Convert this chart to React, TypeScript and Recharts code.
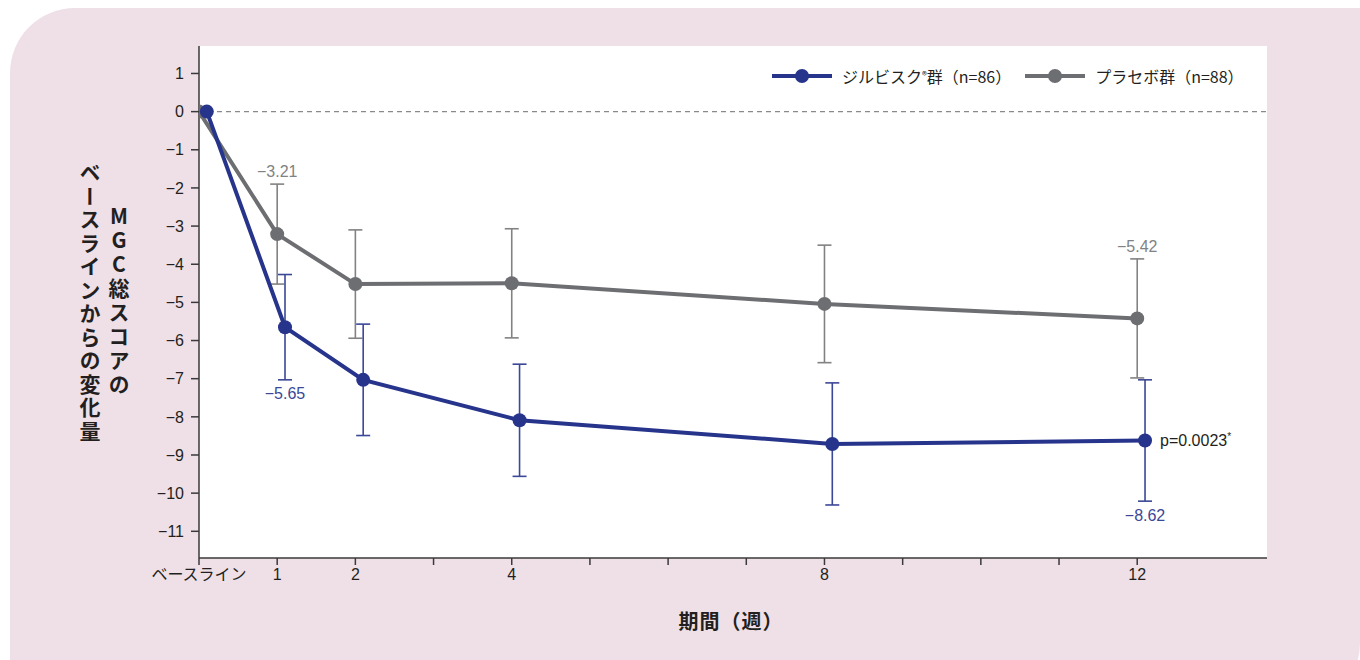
import { LineChart, Line, XAxis, YAxis, ErrorBar, ReferenceLine, ReferenceDot, Label } from 'recharts'

// 観察時点（週）
const weeks = [0, 1, 2, 4, 8, 12]
const weekTicks = [0, 1, 2, 3, 4, 5, 6, 7, 8, 9, 10, 11, 12]
const weekLabels: Record<number, string> = { 0: 'ベースライン', 1: '1', 2: '2', 4: '4', 8: '8', 12: '12' }
const yTicks = [1, 0, -1, -2, -3, -4, -5, -6, -7, -8, -9, -10, -11]

// ジルビスク群
const zilMean = [0, -5.65, -7.03, -8.09, -8.71, -8.62]
const zilErr = [null, 1.38, 1.46, 1.47, 1.6, 1.59]
// プラセボ群
const plaMean = [0, -3.21, -4.52, -4.5, -5.04, -5.42]
const plaErr = [null, 1.31, 1.42, 1.43, 1.54, 1.56]

const BLUE = '#27348b'
const BLUE_ERR = '#3b4797'
const GRAY = '#6d6e71'
const GRAY_ERR = '#828282'
const FONT = '"Liberation Sans", Arial, "Noto Sans CJK JP", sans-serif'
const JP = '"Noto Sans CJK JP", sans-serif'

const SHIFT = 0.1 // ジルビスク群の点を少し右へずらす

const zilData = weeks.map((w, i) => ({ week: w + SHIFT, value: zilMean[i], err: zilErr[i] }))
const plaData = weeks.map((w, i) => ({ week: w, value: plaMean[i], err: plaErr[i] }))

const fmt = (v: number) => '−' + Math.abs(v).toFixed(2)

function LegendBox() {
  const item = (color: string, text: any) => (
    <div style={{ display: 'flex', alignItems: 'center', marginRight: 14 }}>
      <svg width={62} height={16}>
        <line x1={0} y1={8} x2={60} y2={8} stroke={color} strokeWidth={4} />
        <circle cx={30} cy={8} r={7} fill={color} />
      </svg>
      <span style={{ marginLeft: 8, fontSize: 16, color: '#231f20', fontFamily: JP }}>{text}</span>
    </div>
  )
  return (
    <div style={{ position: 'absolute', left: 772, top: 64, display: 'flex' }}>
      {item(BLUE, <>ジルビスク<sup style={{ fontSize: 10, verticalAlign: 4 }}>®</sup>群（n=86）</>)}
      {item(GRAY, <>プラセボ群（n=88）</>)}
    </div>
  )
}

function PLabel(props: any) {
  const { viewBox } = props
  return (
    <text x={viewBox.x + 15} y={viewBox.y + 6} fontSize={16} fill="#231f20" fontFamily={FONT}>
      p=0.0023<tspan fontSize={10} dy={-6}>*</tspan>
    </text>
  )
}

export default function App() {
  return (
    <div style={{ position: 'absolute', left: 0, top: 0, width: 1360, height: 660, background: '#fff', overflow: 'hidden' }}>
      <div style={{ position: 'absolute', left: 10, top: 8, width: 1350, height: 700, background: '#efe0e7', borderRadius: '65px 0 65px 0' }} />
      <div style={{ position: 'absolute', left: 0, top: 0 }}>
        <LineChart width={1360} height={660} data={plaData} margin={{ top: 46, right: 93, bottom: 72, left: 139 }}>
          <rect x={199} y={46} width={1068} height={512} fill="#fff" />
          <XAxis
            dataKey="week"
            type="number"
            domain={[0, 13.66]}
            ticks={weekTicks}
            interval={0}
            tickFormatter={(v: number) => weekLabels[v] ?? ''}
            height={30}
            tickSize={7}
            tickMargin={4}
            allowDataOverflow
            axisLine={{ stroke: '#3a3a3a', strokeWidth: 1.5 }}
            tickLine={{ stroke: '#3a3a3a', strokeWidth: 1.5 }}
            tick={{ fontSize: 16, fill: '#231f20', fontFamily: FONT }}
          />
          <YAxis
            type="number"
            domain={[-11.7, 1.72]}
            ticks={yTicks}
            interval={0}
            allowDataOverflow
            tickFormatter={(v: number) => (v < 0 ? '−' + Math.abs(v) : String(v))}
            width={60}
            tickSize={8}
            tickMargin={7}
            axisLine={{ stroke: '#3a3a3a', strokeWidth: 1.5 }}
            tickLine={{ stroke: '#3a3a3a', strokeWidth: 1.5 }}
            tick={{ fontSize: 16, fill: '#231f20', fontFamily: FONT }}
          />
          <ReferenceLine y={0} stroke="#8a8a8a" strokeDasharray="5 4" strokeWidth={1.2} />
          <Line
            data={plaData}
            dataKey="value"
            name="プラセボ群"
            stroke={GRAY}
            strokeWidth={4}
            dot={{ r: 7, fill: GRAY, stroke: GRAY, strokeWidth: 0 }}
            isAnimationActive={false}
          >
            <ErrorBar dataKey="err" direction="y" width={7} stroke={GRAY_ERR} strokeWidth={1.6} />
          </Line>
          <Line
            data={zilData}
            dataKey="value"
            name="ジルビスク群"
            stroke={BLUE}
            strokeWidth={4}
            dot={{ r: 7, fill: BLUE, stroke: BLUE, strokeWidth: 0 }}
            isAnimationActive={false}
          >
            <ErrorBar dataKey="err" direction="y" width={7} stroke={BLUE_ERR} strokeWidth={1.6} />
          </Line>
          <ReferenceDot x={weeks[1]} y={plaMean[1] + (plaErr[1] as number)} r={0} fill="none" stroke="none">
            <Label value={fmt(plaMean[1])} position="top" offset={7} fontSize={16} fill={GRAY_ERR} fontFamily={FONT} />
          </ReferenceDot>
          <ReferenceDot x={weeks[5]} y={plaMean[5] + (plaErr[5] as number)} r={0} fill="none" stroke="none">
            <Label value={fmt(plaMean[5])} position="top" offset={7} fontSize={16} fill={GRAY_ERR} fontFamily={FONT} />
          </ReferenceDot>
          <ReferenceDot x={weeks[1] + SHIFT} y={zilMean[1] - (zilErr[1] as number)} r={0} fill="none" stroke="none">
            <Label value={fmt(zilMean[1])} position="bottom" offset={8} fontSize={16} fill={BLUE_ERR} fontFamily={FONT} />
          </ReferenceDot>
          <ReferenceDot x={weeks[5] + SHIFT} y={zilMean[5] - (zilErr[5] as number)} r={0} fill="none" stroke="none">
            <Label value={fmt(zilMean[5])} position="bottom" offset={8} fontSize={16} fill={BLUE_ERR} fontFamily={FONT} />
          </ReferenceDot>
          <ReferenceDot x={weeks[5] + SHIFT} y={zilMean[5]} r={0} fill="none" stroke="none">
            <Label content={<PLabel />} />
          </ReferenceDot>
        </LineChart>
      </div>
      <LegendBox />
      <div
        style={{
          position: 'absolute', left: 106, top: 206, writingMode: 'vertical-rl', textOrientation: 'upright',
          fontFamily: JP, fontWeight: 700, fontSize: 21, letterSpacing: 3, color: '#231f20', lineHeight: '26px',
        }}
      >
        MGC総スコアの
      </div>
      <div
        style={{
          position: 'absolute', left: 77, top: 162, writingMode: 'vertical-rl', textOrientation: 'upright',
          fontFamily: JP, fontWeight: 700, fontSize: 21, letterSpacing: 2.5, color: '#231f20', lineHeight: '26px',
        }}
      >
        ベースラインからの変化量
      </div>
      <div style={{ position: 'absolute', left: 0, top: 606, width: 1462, textAlign: 'center', fontFamily: JP, fontWeight: 700, fontSize: 20, color: '#231f20', letterSpacing: 1 }}>
        期間（週）
      </div>
    </div>
  )
}
